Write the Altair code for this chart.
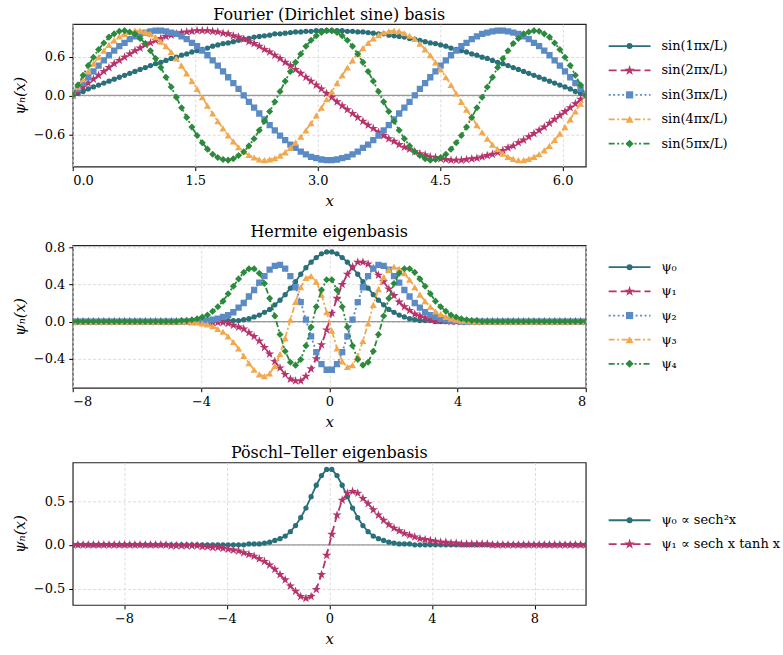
import altair as alt
import pandas as pd

SERIF = "DejaVu Serif"

# ---------------- Fourier (Dirichlet sine) basis on [0, 2*pi] ----------------
fourier_x = [
    0.000, 0.063, 0.127, 0.190, 0.254, 0.317, 0.381, 0.444, 0.508, 0.571,
    0.635, 0.698, 0.762, 0.825, 0.889, 0.952, 1.015, 1.079, 1.142, 1.206,
    1.269, 1.333, 1.396, 1.460, 1.523, 1.587, 1.650, 1.714, 1.777, 1.841,
    1.904, 1.967, 2.031, 2.094, 2.158, 2.221, 2.285, 2.348, 2.412, 2.475,
    2.539, 2.602, 2.666, 2.729, 2.793, 2.856, 2.919, 2.983, 3.046, 3.110,
    3.173, 3.237, 3.300, 3.364, 3.427, 3.491, 3.554, 3.618, 3.681, 3.745,
    3.808, 3.871, 3.935, 3.998, 4.062, 4.125, 4.189, 4.252, 4.316, 4.379,
    4.443, 4.506, 4.570, 4.633, 4.697, 4.760, 4.823, 4.887, 4.950, 5.014,
    5.077, 5.141, 5.204, 5.268, 5.331, 5.395, 5.458, 5.522, 5.585, 5.649,
    5.712, 5.775, 5.839, 5.902, 5.966, 6.029, 6.093, 6.156, 6.220, 6.283,
]
fourier_sin1 = [
    0, .03, .06, .10, .13, .16, .19, .22, .25, .28,
    .31, .34, .37, .40, .43, .46, .49, .51, .54, .57,
    .59, .62, .64, .67, .69, .71, .73, .76, .78, .80,
    .81, .83, .85, .87, .88, .90, .91, .92, .93, .95,
    .95, .96, .97, .98, .98, .99, .99, 1, 1, 1,
    1, 1, 1, .99, .99, .98, .98, .97, .96, .95,
    .95, .93, .92, .91, .90, .88, .87, .85, .83, .81,
    .80, .78, .76, .73, .71, .69, .67, .64, .62, .59,
    .57, .54, .51, .49, .46, .43, .40, .37, .34, .31,
    .28, .25, .22, .19, .16, .13, .10, .06, .03, 0,
]
fourier_sin2 = [
    0, .06, .13, .19, .25, .31, .37, .43, .49, .54,
    .59, .64, .69, .73, .78, .81, .85, .88, .91, .93,
    .95, .97, .98, .99, 1, 1, 1, .99, .98, .96,
    .95, .92, .90, .87, .83, .80, .76, .71, .67, .62,
    .57, .51, .46, .40, .34, .28, .22, .16, .10, .03,
    -.03, -.10, -.16, -.22, -.28, -.34, -.40, -.46, -.51, -.57,
    -.62, -.67, -.71, -.76, -.80, -.83, -.87, -.90, -.92, -.95,
    -.96, -.98, -.99, -1, -1, -1, -.99, -.98, -.97, -.95,
    -.93, -.91, -.88, -.85, -.81, -.78, -.73, -.69, -.64, -.59,
    -.54, -.49, -.43, -.37, -.31, -.25, -.19, -.13, -.06, 0,
]
fourier_sin3 = [
    0, .10, .19, .28, .37, .46, .54, .62, .69, .76,
    .81, .87, .91, .95, .97, .99, 1, 1, .99, .97,
    .95, .91, .87, .81, .76, .69, .62, .54, .46, .37,
    .28, .19, .10, 0, -.10, -.19, -.28, -.37, -.46, -.54,
    -.62, -.69, -.76, -.81, -.87, -.91, -.95, -.97, -.99, -1,
    -1, -.99, -.97, -.95, -.91, -.87, -.81, -.76, -.69, -.62,
    -.54, -.46, -.37, -.28, -.19, -.10, 0, .10, .19, .28,
    .37, .46, .54, .62, .69, .76, .81, .87, .91, .95,
    .97, .99, 1, 1, .99, .97, .95, .91, .87, .81,
    .76, .69, .62, .54, .46, .37, .28, .19, .10, 0,
]
fourier_sin4 = [
    0, .13, .25, .37, .49, .59, .69, .78, .85, .91,
    .95, .98, 1, 1, .98, .95, .90, .83, .76, .67,
    .57, .46, .34, .22, .10, -.03, -.16, -.28, -.40, -.51,
    -.62, -.71, -.80, -.87, -.92, -.96, -.99, -1, -.99, -.97,
    -.93, -.88, -.81, -.73, -.64, -.54, -.43, -.31, -.19, -.06,
    .06, .19, .31, .43, .54, .64, .73, .81, .88, .93,
    .97, .99, 1, .99, .96, .92, .87, .80, .71, .62,
    .51, .40, .28, .16, .03, -.10, -.22, -.34, -.46, -.57,
    -.67, -.76, -.83, -.90, -.95, -.98, -1, -1, -.98, -.95,
    -.91, -.85, -.78, -.69, -.59, -.49, -.37, -.25, -.13, 0,
]
fourier_sin5 = [
    0, .16, .31, .46, .59, .71, .81, .90, .95, .99,
    1, .98, .95, .88, .80, .69, .57, .43, .28, .13,
    -.03, -.19, -.34, -.49, -.62, -.73, -.83, -.91, -.96, -.99,
    -1, -.98, -.93, -.87, -.78, -.67, -.54, -.40, -.25, -.10,
    .06, .22, .37, .51, .64, .76, .85, .92, .97, 1,
    1, .97, .92, .85, .76, .64, .51, .37, .22, .06,
    -.10, -.25, -.40, -.54, -.67, -.78, -.87, -.93, -.98, -1,
    -.99, -.96, -.91, -.83, -.73, -.62, -.49, -.34, -.19, -.03,
    .13, .28, .43, .57, .69, .80, .88, .95, .98, 1,
    .99, .95, .90, .81, .71, .59, .46, .31, .16, 0,
]
fourier_labels = ["sin(1πx/L)", "sin(2πx/L)", "sin(3πx/L)", "sin(4πx/L)", "sin(5πx/L)"]

# ---------------- Hermite eigenbasis on [-8, 8] ----------------
hermite_x = [
    -8.000, -7.838, -7.677, -7.515, -7.354, -7.192, -7.030, -6.869, -6.707, -6.545,
    -6.384, -6.222, -6.061, -5.899, -5.737, -5.576, -5.414, -5.253, -5.091, -4.929,
    -4.768, -4.606, -4.444, -4.283, -4.121, -3.960, -3.798, -3.636, -3.475, -3.313,
    -3.152, -2.990, -2.828, -2.667, -2.505, -2.343, -2.182, -2.020, -1.859, -1.697,
    -1.535, -1.374, -1.212, -1.051, -0.889, -0.727, -0.566, -0.404, -0.242, -0.081,
    0.081, 0.242, 0.404, 0.566, 0.727, 0.889, 1.051, 1.212, 1.374, 1.535,
    1.697, 1.859, 2.020, 2.182, 2.343, 2.505, 2.667, 2.828, 2.990, 3.152,
    3.313, 3.475, 3.636, 3.798, 3.960, 4.121, 4.283, 4.444, 4.606, 4.768,
    4.929, 5.091, 5.253, 5.414, 5.576, 5.737, 5.899, 6.061, 6.222, 6.384,
    6.545, 6.707, 6.869, 7.030, 7.192, 7.354, 7.515, 7.677, 7.838, 8.000,
]
hermite_psi0 = [
    0, 0, 0, 0, 0, 0, 0, 0, 0, 0,
    0, 0, 0, 0, 0, 0, 0, 0, 0, 0,
    0, 0, 0, 0, 0, 0, 0, 0, 0, 0,
    .01, .01, .01, .02, .03, .05, .07, .10, .13, .18,
    .23, .29, .36, .43, .51, .58, .64, .69, .73, .75,
    .75, .73, .69, .64, .58, .51, .43, .36, .29, .23,
    .18, .13, .10, .07, .05, .03, .02, .01, .01, .01,
    0, 0, 0, 0, 0, 0, 0, 0, 0, 0,
    0, 0, 0, 0, 0, 0, 0, 0, 0, 0,
    0, 0, 0, 0, 0, 0, 0, 0, 0, 0,
]
hermite_psi1 = [
    0, 0, 0, 0, 0, 0, 0, 0, 0, 0,
    0, 0, 0, 0, 0, 0, 0, 0, 0, 0,
    0, 0, 0, 0, 0, 0, 0, -.01, -.01, -.01,
    -.02, -.04, -.06, -.08, -.12, -.16, -.21, -.28, -.35, -.43,
    -.50, -.57, -.62, -.64, -.64, -.59, -.51, -.40, -.25, -.09,
    .09, .25, .40, .51, .59, .64, .64, .62, .57, .50,
    .43, .35, .28, .21, .16, .12, .08, .06, .04, .02,
    .01, .01, .01, 0, 0, 0, 0, 0, 0, 0,
    0, 0, 0, 0, 0, 0, 0, 0, 0, 0,
    0, 0, 0, 0, 0, 0, 0, 0, 0, 0,
]
hermite_psi2 = [
    0, 0, 0, 0, 0, 0, 0, 0, 0, 0,
    0, 0, 0, 0, 0, 0, 0, 0, 0, 0,
    0, 0, 0, 0, 0, .01, .01, .02, .03, .05,
    .07, .10, .15, .20, .27, .34, .42, .49, .56, .60,
    .61, .57, .49, .37, .21, .02, -.16, -.33, -.46, -.52,
    -.52, -.46, -.33, -.16, .02, .21, .37, .49, .57, .61,
    .60, .56, .49, .42, .34, .27, .20, .15, .10, .07,
    .05, .03, .02, .01, .01, 0, 0, 0, 0, 0,
    0, 0, 0, 0, 0, 0, 0, 0, 0, 0,
    0, 0, 0, 0, 0, 0, 0, 0, 0, 0,
]
hermite_psi3 = [
    0, 0, 0, 0, 0, 0, 0, 0, 0, 0,
    0, 0, 0, 0, 0, 0, 0, 0, 0, 0,
    0, 0, 0, -.01, -.01, -.02, -.03, -.05, -.08, -.11,
    -.16, -.22, -.29, -.37, -.45, -.52, -.57, -.59, -.56, -.48,
    -.35, -.18, .02, .21, .37, .47, .49, .43, .29, .10,
    -.10, -.29, -.43, -.49, -.47, -.37, -.21, -.02, .18, .35,
    .48, .56, .59, .57, .52, .45, .37, .29, .22, .16,
    .11, .08, .05, .03, .02, .01, .01, 0, 0, 0,
    0, 0, 0, 0, 0, 0, 0, 0, 0, 0,
    0, 0, 0, 0, 0, 0, 0, 0, 0, 0,
]
hermite_psi4 = [
    0, 0, 0, 0, 0, 0, 0, 0, 0, 0,
    0, 0, 0, 0, 0, 0, 0, 0, 0, 0,
    0, .01, .01, .02, .03, .05, .07, .11, .16, .22,
    .30, .38, .46, .53, .57, .57, .52, .41, .25, .06,
    -.14, -.32, -.44, -.47, -.41, -.26, -.06, .16, .34, .45,
    .45, .34, .16, -.06, -.26, -.41, -.47, -.44, -.32, -.14,
    .06, .25, .41, .52, .57, .57, .53, .46, .38, .30,
    .22, .16, .11, .07, .05, .03, .02, .01, .01, 0,
    0, 0, 0, 0, 0, 0, 0, 0, 0, 0,
    0, 0, 0, 0, 0, 0, 0, 0, 0, 0,
]
hermite_labels = ["ψ₀", "ψ₁", "ψ₂", "ψ₃", "ψ₄"]

# ---------------- Pöschl–Teller eigenbasis on [-10, 10] ----------------
pt_x = [
    -10.000, -9.798, -9.596, -9.394, -9.192, -8.990, -8.788, -8.586, -8.384, -8.182,
    -7.980, -7.778, -7.576, -7.374, -7.172, -6.970, -6.768, -6.566, -6.364, -6.162,
    -5.960, -5.758, -5.556, -5.354, -5.152, -4.949, -4.747, -4.545, -4.343, -4.141,
    -3.939, -3.737, -3.535, -3.333, -3.131, -2.929, -2.727, -2.525, -2.323, -2.121,
    -1.919, -1.717, -1.515, -1.313, -1.111, -0.909, -0.707, -0.505, -0.303, -0.101,
    0.101, 0.303, 0.505, 0.707, 0.909, 1.111, 1.313, 1.515, 1.717, 1.919,
    2.121, 2.323, 2.525, 2.727, 2.929, 3.131, 3.333, 3.535, 3.737, 3.939,
    4.141, 4.343, 4.545, 4.747, 4.949, 5.152, 5.354, 5.556, 5.758, 5.960,
    6.162, 6.364, 6.566, 6.768, 6.970, 7.172, 7.374, 7.576, 7.778, 7.980,
    8.182, 8.384, 8.586, 8.788, 8.990, 9.192, 9.394, 9.596, 9.798, 10.000,
]
pt_psi0 = [
    0, 0, 0, 0, 0, 0, 0, 0, 0, 0,
    0, 0, 0, 0, 0, 0, 0, 0, 0, 0,
    0, 0, 0, 0, 0, 0, 0, 0, 0, 0,
    0, 0, 0, 0, .01, .01, .01, .02, .03, .05,
    .07, .10, .15, .22, .31, .42, .55, .68, .79, .86,
    .86, .79, .68, .55, .42, .31, .22, .15, .10, .07,
    .05, .03, .02, .01, .01, .01, 0, 0, 0, 0,
    0, 0, 0, 0, 0, 0, 0, 0, 0, 0,
    0, 0, 0, 0, 0, 0, 0, 0, 0, 0,
    0, 0, 0, 0, 0, 0, 0, 0, 0, 0,
]
pt_psi1 = [
    0, 0, 0, 0, 0, 0, 0, 0, 0, 0,
    0, 0, 0, 0, 0, 0, 0, 0, 0, -.01,
    -.01, -.01, -.01, -.01, -.01, -.02, -.02, -.03, -.03, -.04,
    -.05, -.06, -.07, -.09, -.11, -.13, -.16, -.19, -.23, -.28,
    -.34, -.40, -.47, -.53, -.59, -.61, -.59, -.51, -.34, -.12,
    .12, .34, .51, .59, .61, .59, .53, .47, .40, .34,
    .28, .23, .19, .16, .13, .11, .09, .07, .06, .05,
    .04, .03, .03, .02, .02, .01, .01, .01, .01, .01,
    .01, 0, 0, 0, 0, 0, 0, 0, 0, 0,
    0, 0, 0, 0, 0, 0, 0, 0, 0, 0,
]
pt_labels = ["ψ₀ ∝ sech²x", "ψ₁ ∝ sech x tanh x"]

# five-pointed star as a unit symbol path (Vega has no built-in star)
STAR = ("M0,-1L0.225,-0.309L0.951,-0.309L0.363,0.118L0.588,0.809"
        "L0,0.382L-0.588,0.809L-0.363,0.118L-0.951,-0.309L-0.225,-0.309Z")

# ---------------- line / marker styles, one per basis function ----------------
STYLES = [
    {"color": "#2a707a", "shape": "circle", "size": 28, "dash": None},
    {"color": "#b7336b", "shape": STAR, "size": 95, "dash": [8, 4]},
    {"color": "#5b8bc5", "shape": "square", "size": 40, "dash": [2, 2.5]},
    {"color": "#f2a84c", "shape": "triangle-up", "size": 50, "dash": [6, 2.5, 2, 2.5]},
    {"color": "#2b8a3c", "shape": "diamond", "size": 50, "dash": [6, 2.5, 2, 2.5, 2, 2.5]},
]

PLOT_W = 515
PLOT_H = 143


def line_props(st):
    props = {"color": st["color"], "strokeWidth": 1.8}
    if st["dash"]:
        props["strokeDash"] = st["dash"]
    return props


def long_table(xs, columns):
    rows = []
    for key, ys in columns:
        assert len(ys) == len(xs), key
        for xv, yv in zip(xs, ys):
            rows.append({"x": xv, "y": yv, "series": key})
    return pd.DataFrame(rows)


def panel(title, xs, columns, labels, xdom, xticks, xfmt, ydom, yticks, yfmt, slot_dom):
    df = long_table(xs, columns)
    xenc = alt.X(
        "x:Q",
        scale=alt.Scale(domain=xdom, nice=False, zero=False),
        axis=alt.Axis(values=xticks, format=xfmt, title="x"),
    )
    yenc = alt.Y(
        "y:Q",
        scale=alt.Scale(domain=ydom, nice=False, zero=False),
        axis=alt.Axis(values=yticks, format=yfmt, title="ψₙ(x)"),
    )
    zero = (
        alt.Chart(pd.DataFrame({"y": [0.0]}))
        .mark_rule(color="#9a9a9a", strokeWidth=1.2)
        .encode(y=yenc)
    )
    curves = [zero]
    base = alt.Chart(df)
    for (key, _), st in zip(columns, STYLES):
        sub = base.transform_filter(alt.datum.series == key)
        curves.append(sub.mark_line(clip=True, **line_props(st)).encode(x=xenc, y=yenc))
        curves.append(
            sub.mark_point(shape=st["shape"], size=st["size"], filled=True,
                           opacity=1, color=st["color"], clip=True).encode(x=xenc, y=yenc)
        )

    # legend entries to the right of the plot area, stacked top-down by slot
    ldf = pd.DataFrame({"label": labels, "slot": list(range(len(labels)))})
    ly = alt.Y("slot:Q", axis=None,
               scale=alt.Scale(domain=slot_dom, reverse=True, nice=False, zero=False))
    keys = []
    for lab, st in zip(labels, STYLES):
        one = alt.Chart(ldf).transform_filter(alt.datum.label == lab)
        keys.append(one.mark_rule(**line_props(st)).encode(
            x=alt.value(PLOT_W + 23), x2=alt.value(PLOT_W + 65), y=ly))
        keys.append(one.mark_point(
            shape=st["shape"], size=round(st["size"] * 1.3), filled=True,
            opacity=1, color=st["color"]
        ).encode(x=alt.value(PLOT_W + 44), y=ly))
    keys.append(alt.Chart(ldf).mark_text(
        align="left", baseline="middle", font=SERIF, fontSize=13, color="black"
    ).encode(x=alt.value(PLOT_W + 76), y=ly, text="label:N"))

    return (
        alt.layer(alt.layer(*curves), alt.layer(*keys))
        .resolve_scale(y="independent")
        .properties(
            width=PLOT_W,
            height=PLOT_H,
            title=alt.TitleParams(title, font=SERIF, fontSize=16,
                                  fontWeight="normal", color="black", offset=1),
        )
    )


p1 = panel(
    "Fourier (Dirichlet sine) basis", fourier_x,
    [("f1", fourier_sin1), ("f2", fourier_sin2), ("f3", fourier_sin3),
     ("f4", fourier_sin4), ("f5", fourier_sin5)],
    fourier_labels,
    [0, 6.2832], [0, 1.5, 3.0, 4.5, 6.0], ".1f",
    [-1.1, 1.1], [-0.6, 0.0, 0.6], ".1f",
    [-0.898, 4.939],
)
p2 = panel(
    "Hermite eigenbasis", hermite_x,
    [("h0", hermite_psi0), ("h1", hermite_psi1), ("h2", hermite_psi2),
     ("h3", hermite_psi3), ("h4", hermite_psi4)],
    hermite_labels,
    [-8, 8], [-8, -4, 0, 4, 8], "d",
    [-0.714, 0.822], [-0.4, 0.0, 0.4, 0.8], ".1f",
    [-0.907, 4.990],
)
p3 = panel(
    "Pöschl–Teller eigenbasis", pt_x,
    [("p0", pt_psi0), ("p1", pt_psi1)],
    pt_labels,
    [-10, 10], [-8, -4, 0, 4, 8], "d",
    [-0.686, 0.940], [-0.5, 0.0, 0.5], ".1f",
    [-2.417, 3.542],
)

chart = (
    alt.vconcat(p1, p2, p3, spacing=14)
    .properties(padding={"left": 11, "top": 5, "right": 2, "bottom": 2})
    .configure_view(stroke="#222222", strokeWidth=1.2)
    .configure_axis(
        domain=False,
        labelFont=SERIF, labelFontSize=13, labelColor="black", labelPadding=4,
        tickColor="black", tickSize=4,
        titleFont=SERIF, titleFontSize=15, titleFontStyle="italic",
        titleFontWeight="normal", titleColor="black", titlePadding=6,
        gridColor="#dcdcdc", gridDash=[3, 2],
    )
)

chart.save("out.html", embed_options={"renderer": "svg", "actions": False})
